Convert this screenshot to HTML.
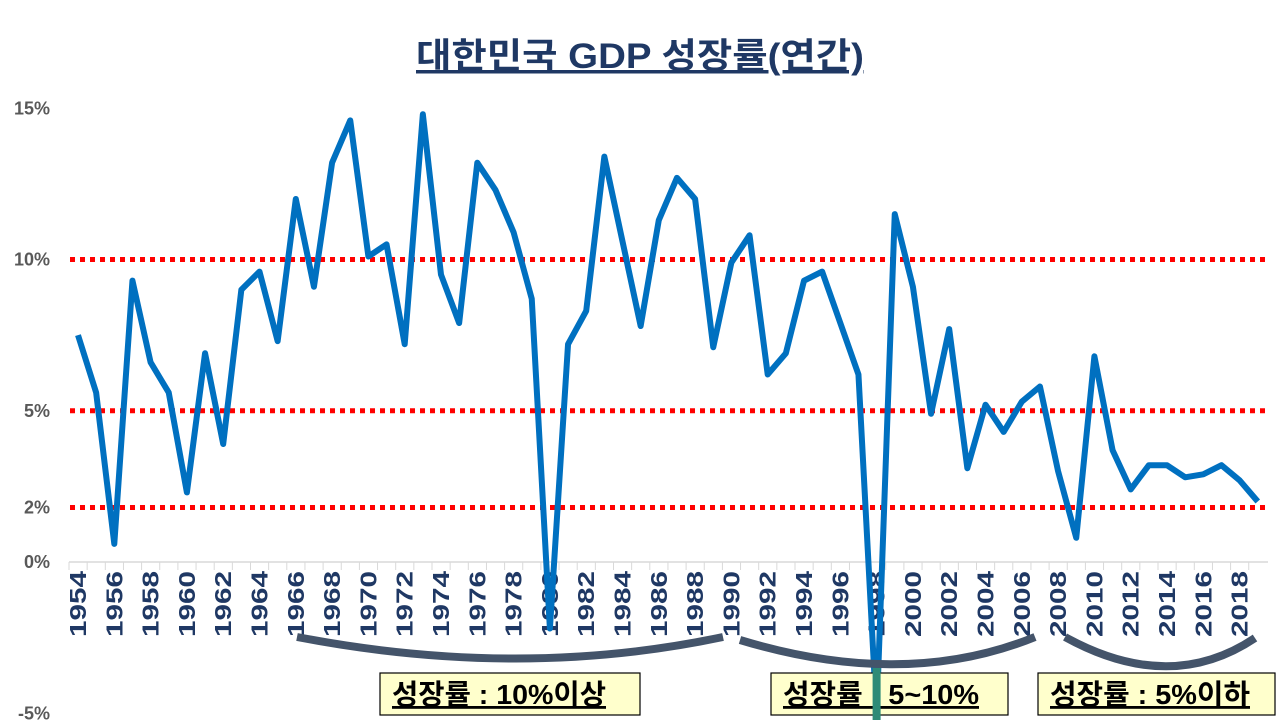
<!DOCTYPE html>
<html><head><meta charset="utf-8"><style>
html,body{margin:0;padding:0;background:#fff;width:1280px;height:720px;overflow:hidden}
svg{display:block}
</style></head><body>
<svg id="chart" width="1280" height="720" xmlns="http://www.w3.org/2000/svg" font-family="'Liberation Sans','Noto Sans CJK KR',sans-serif">
<text x="640" y="68" text-anchor="middle" font-size="35" font-weight="bold" fill="#1f3864" text-decoration="underline" textLength="448" lengthAdjust="spacingAndGlyphs">대한민국 GDP 성장률(연간)</text>
<g id="grid"></g><g id="axis"></g><g id="series"></g>
<g id="annot"></g>
</svg>
<script>
const years=[];for(let y=1954;y<=2019;y++)years.push(y);
const growth=[7.5,5.6,0.6,9.3,6.6,5.6,2.3,6.9,3.9,9.0,9.6,7.3,12.0,9.1,13.2,14.6,10.1,10.5,7.2,14.8,9.5,7.9,13.2,12.3,10.9,8.7,-2.2,7.2,8.3,13.4,10.6,7.8,11.3,12.7,12.0,7.1,9.9,10.8,6.2,6.9,9.3,9.6,7.9,6.2,-5.1,11.5,9.1,4.9,7.7,3.1,5.2,4.3,5.3,5.8,3.0,0.8,6.8,3.7,2.4,3.2,3.2,2.8,2.9,3.2,2.7,2.0];
const yTicks=[15,10,5,1.8,0,-5];
const yTickLabels=['15%','10%','5%','2%','0%','-5%'];
const refLines=[10,5,1.8];
const NS='http://www.w3.org/2000/svg';
const X=y=>78+(y-1954)*18.15;
const Y=v=>562-v*30.25;
function mk(tag,attrs,parent){const e=document.createElementNS(NS,tag);for(const k in attrs)e.setAttribute(k,attrs[k]);document.getElementById(parent).appendChild(e);return e;}
yTicks.forEach((v,i)=>{const t=mk('text',{x:50,y:Y(v)+6,'text-anchor':'end','font-size':18,'font-weight':'bold',fill:'#595959'},'axis');


t.textContent=yTickLabels[i];});
refLines.forEach(v=>{const l=mk('line',{x1:70,x2:1268,y1:Y(v),y2:Y(v),stroke:'#ff0000','stroke-width':5,'stroke-dasharray':'5 5'},'grid');

});
const ax=mk('line',{x1:69,x2:1268,y1:562,y2:562,stroke:'#d9d9d9','stroke-width':1.5},'axis');


years.forEach((yr,i)=>{const tx=X(yr)-9;mk('line',{x1:tx,x2:tx,y1:562,y2:570,stroke:'#d9d9d9'},'axis');
if(i%2===0){const t=mk('text',{transform:`translate(${X(yr)+8},${637}) rotate(-90)`,'font-size':23,'font-weight':'bold',fill:'#1f3864',textLength:66,lengthAdjust:'spacingAndGlyphs'},'axis');


t.textContent=yr;}});
const pts=years.map((yr,i)=>X(yr)+','+Y(growth[i])).join(' ');
const pl=mk('polyline',{points:pts,fill:'none',stroke:'#0070c0','stroke-width':6,'stroke-linejoin':'round'},'series');


[['M297,637 Q520,680 723,637','bracket-1966-1989'],['M740,640 Q905,690 1035,637','bracket-1990-2007'],['M1065,637 Q1170,695 1255,638','bracket-2008-2019']].forEach(b=>{
const p=mk('path',{d:b[0],fill:'none',stroke:'#44546a','stroke-width':8,'stroke-linecap':'butt'},'annot');

});
[[380,640,'성장률 : 10%이상','label-over-10',214],[771,1008,'성장률 : 5~10%','label-5-to-10',196],[1038,1275,'성장률 : 5%이하','label-under-5',200]].forEach(b=>{
const r=mk('rect',{x:b[0],y:673,width:b[1]-b[0],height:42,fill:'#ffffcc',stroke:'#000','stroke-width':1.2},'annot');


const t=mk('text',{x:b[0]+12,y:704,'font-size':28,'font-weight':'bold',fill:'#000','text-decoration':'underline',textLength:b[4],lengthAdjust:'spacingAndGlyphs'},'annot');


t.textContent=b[2];});
const tl=mk('rect',{x:X(1998)-4,y:668,width:8,height:52,fill:'#2e8b77'},'annot');


</script>
</body></html>
